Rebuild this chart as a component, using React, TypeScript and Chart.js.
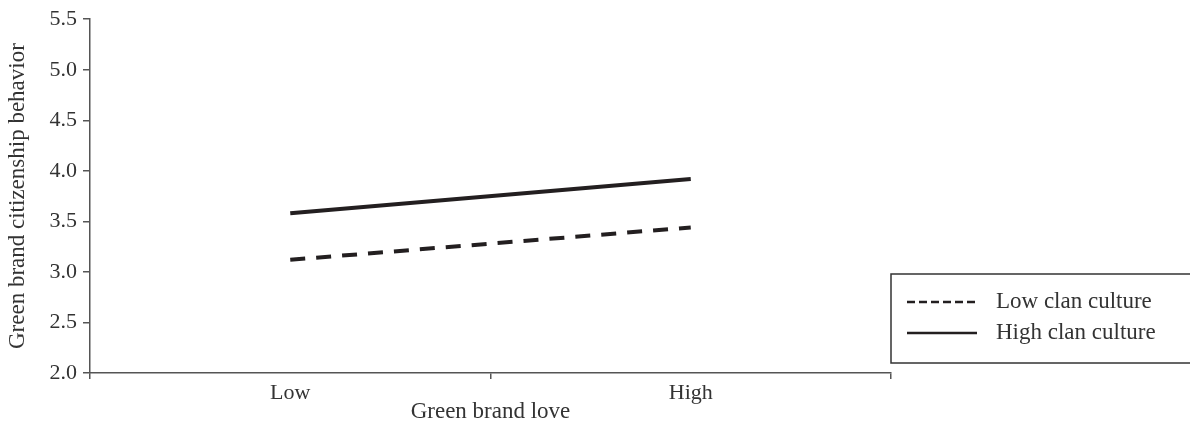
import React, { useEffect, useRef } from "react";
import { Chart, registerables } from "chart.js";

Chart.register(...registerables);

const categories = ["Low", "High"];
const lowClanCulture = [3.12, 3.44];
const highClanCulture = [3.58, 3.92];
const seriesLabels = ["Low clan culture", "High clan culture"];
const yTitle = "Green brand citizenship behavior";
const xTitle = "Green brand love";

const FONT = "'Liberation Serif', 'Times New Roman', serif";
const TEXT = "#333333";
const AXIS = "#555555";
const LINE = "#231f20";

const legendPlugin = {
  id: "boxLegend",
  afterDraw(chart: any) {
    const ctx = chart.ctx;
    const area = chart.chartArea;
    const x0 = area.right;
    const top = 274;
    const bottom = 363;
    ctx.save();
    ctx.strokeStyle = "#333333";
    ctx.lineWidth = 1.5;
    ctx.strokeRect(x0, top, chart.width - x0 + 5, bottom - top);
    const rows = [302, 333];
    chart.data.datasets.forEach((ds: any, i: number) => {
      const y = rows[i];
      ctx.beginPath();
      ctx.lineWidth = 2.5;
      ctx.strokeStyle = LINE;
      ctx.setLineDash(ds.legendDash || []);
      ctx.moveTo(x0 + 16, y);
      ctx.lineTo(x0 + 86, y);
      ctx.stroke();
      ctx.setLineDash([]);
      ctx.fillStyle = TEXT;
      ctx.font = "23px " + FONT;
      ctx.textBaseline = "middle";
      ctx.textAlign = "left";
      ctx.fillText(ds.label, x0 + 105, y);
    });
    ctx.restore();
  },
};

export default function App() {
  const ref = useRef<HTMLCanvasElement>(null);
  useEffect(() => {
    const chart = new Chart(ref.current!, {
      type: "line",
      data: {
        labels: categories,
        datasets: [
          {
            label: seriesLabels[0],
            data: lowClanCulture,
            borderColor: LINE,
            borderWidth: 4,
            borderDash: [15, 11],
            pointRadius: 0,
            fill: false,
            legendDash: [8, 4],
          } as any,
          {
            label: seriesLabels[1],
            data: highClanCulture,
            borderColor: LINE,
            borderWidth: 4,
            pointRadius: 0,
            fill: false,
            legendDash: [],
          } as any,
        ],
      },
      options: {
        animation: false,
        responsive: false,
        layout: { padding: { top: 17, right: 299, left: 0, bottom: 0 } },
        plugins: { legend: { display: false }, tooltip: { enabled: false } },
        scales: {
          x: {
            type: "category",
            offset: true,
            grid: {
              display: true,
              offset: true,
              drawOnChartArea: false,
              drawTicks: true,
              tickLength: 6,
              color: AXIS,
              lineWidth: 1.5,
            },
            border: { display: true, color: AXIS, width: 1.5 },
            ticks: { color: TEXT, font: { family: FONT, size: 22 }, padding: 1, maxRotation: 0 },
            title: {
              display: true,
              text: xTitle,
              color: TEXT,
              font: { family: FONT, size: 23, lineHeight: 1.0 },
              padding: { top: 0, bottom: 0 },
            },
            afterFit: (s: any) => {
              s.height = 50;
            },
          },
          y: {
            min: 2.0,
            max: 5.5,
            grid: {
              display: true,
              drawOnChartArea: false,
              drawTicks: true,
              tickLength: 7,
              color: AXIS,
              lineWidth: 1.5,
            },
            border: { display: true, color: AXIS, width: 1.5 },
            ticks: {
              stepSize: 0.5,
              color: TEXT,
              font: { family: FONT, size: 22 },
              padding: 6,
              callback: (v: any) => Number(v).toFixed(1),
            },
            title: {
              display: true,
              text: yTitle,
              color: TEXT,
              font: { family: FONT, size: 23 },
              padding: { top: 4, bottom: 0 },
            },
            afterFit: (s: any) => {
              s.width = 90;
            },
          },
        },
      },
      plugins: [legendPlugin],
    });
    return () => chart.destroy();
  }, []);
  return (
    <div style={{ position: "fixed", left: 0, top: 0, width: 1190, height: 423, background: "#fff" }}>
      <canvas ref={ref} width={1190} height={423} style={{ width: 1190, height: 423 }} />
    </div>
  );
}
